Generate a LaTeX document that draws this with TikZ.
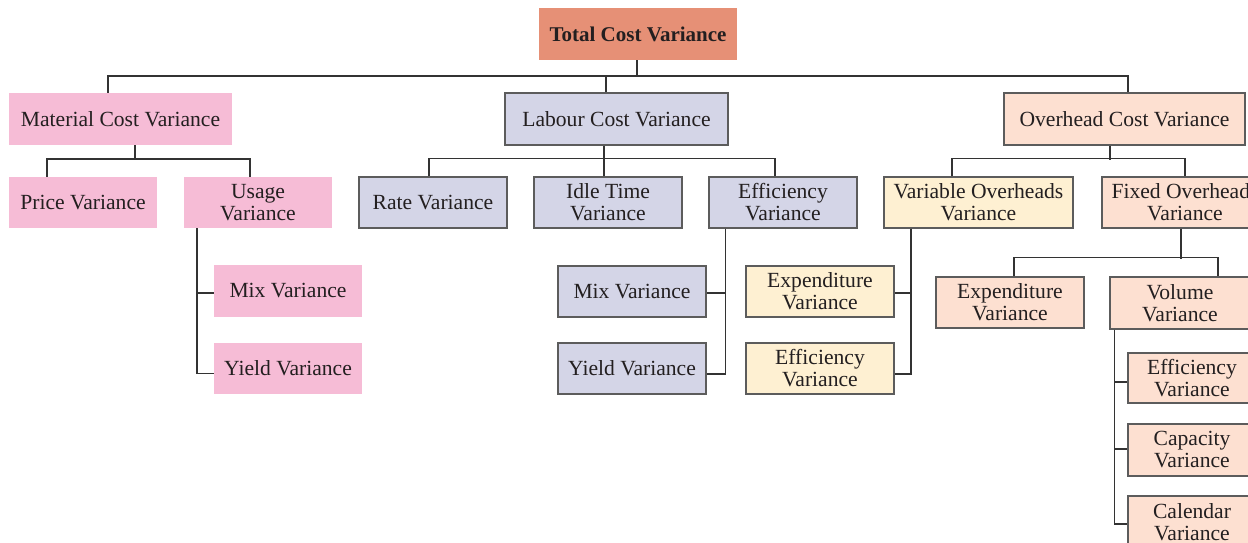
\documentclass[tikz,border=0pt]{standalone}
\usepackage{fontspec}
\setmainfont{Liberation Serif}
\definecolor{totc}{HTML}{E69076}
\definecolor{pinkc}{HTML}{F6BCD6}
\definecolor{lavc}{HTML}{D4D5E7}
\definecolor{peachc}{HTML}{FDE0D1}
\definecolor{yelc}{HTML}{FEF0D2}
\definecolor{bordc}{HTML}{5C5C5C}
\definecolor{linec}{HTML}{333333}
\definecolor{txtc}{HTML}{231F20}
\begin{document}
\begin{tikzpicture}[x=1pt,y=-1pt,
  box/.style={inner sep=0pt, align=center, text=txtc, font=\fontsize{21.6}{22}\selectfont},
  totbox/.style={box, fill=totc, font=\fontsize{21}{22}\selectfont\bfseries},
  pinkbox/.style={box, fill=pinkc},
  lavbox/.style={box, fill=lavc, draw=bordc, line width=1.2pt},
  peachbox/.style={box, fill=peachc, draw=bordc, line width=1.2pt},
  yelbox/.style={box, fill=yelc, draw=bordc, line width=1.2pt},
  conn/.style={draw=linec, line width=1.5pt}]
\useasboundingbox (0,0) rectangle (1248,543);
\clip (0,0) rectangle (1248,543);
% nodes
\node[totbox, minimum width=198pt, minimum height=52pt] (total) at (638,34) {Total Cost Variance};
\node[pinkbox, minimum width=223pt, minimum height=52pt] (mat) at (120.5,119) {Material Cost Variance};
\node[lavbox, minimum width=223pt, minimum height=52pt] (lab) at (616.5,119) {Labour Cost Variance};
\node[peachbox, minimum width=241pt, minimum height=52pt] (ovh) at (1124.5,119) {Overhead Cost Variance};
\node[pinkbox, minimum width=148pt, minimum height=51pt] (price) at (83,202.5) {Price Variance};
\node[pinkbox, minimum width=148pt, minimum height=51pt] (usage) at (258,202.5) {Usage\\Variance};
\node[pinkbox, minimum width=148pt, minimum height=52pt] (mixa) at (288,291) {Mix Variance};
\node[pinkbox, minimum width=148pt, minimum height=51pt] (yielda) at (288,368.5) {Yield Variance};
\node[lavbox, minimum width=148pt, minimum height=51pt] (rate) at (433,202.5) {Rate Variance};
\node[lavbox, minimum width=148pt, minimum height=51pt] (idle) at (608,202.5) {Idle Time\\Variance};
\node[lavbox, minimum width=148pt, minimum height=51pt] (effa) at (783,202.5) {Efficiency\\Variance};
\node[lavbox, minimum width=148pt, minimum height=51pt] (mixb) at (632,291.5) {Mix Variance};
\node[lavbox, minimum width=148pt, minimum height=51pt] (yieldb) at (632,368.5) {Yield Variance};
\node[yelbox, minimum width=189pt, minimum height=51pt] (var) at (978.5,202.5) {Variable Overheads\\Variance};
\node[peachbox, minimum width=166pt, minimum height=51pt] (fix) at (1185,202.5) {Fixed Overheads\\Variance};
\node[yelbox, minimum width=148pt, minimum height=51pt] (expa) at (820,291.5) {Expenditure\\Variance};
\node[yelbox, minimum width=148pt, minimum height=51pt] (effb) at (820,368.5) {Efficiency\\Variance};
\node[peachbox, minimum width=148pt, minimum height=51pt] (expb) at (1010,302.5) {Expenditure\\Variance};
\node[peachbox, minimum width=140pt, minimum height=52pt] (vol) at (1180,303) {Volume\\Variance};
\node[peachbox, minimum width=128pt, minimum height=50pt] (effc) at (1192,378) {Efficiency\\Variance};
\node[peachbox, minimum width=128pt, minimum height=52pt] (cap) at (1192,450) {Capacity\\Variance};
\node[peachbox, minimum width=128pt, minimum height=52pt] (cal) at (1192,522) {Calendar\\Variance};
% level 1
\draw[conn] ([xshift=-1pt]total.south) -- ++(0,16);
\draw[conn] ([xshift=-12.5pt]mat.north) -- ++(0,-17) -| ([xshift=3.5pt]ovh.north);
\draw[conn] ([xshift=-10.5pt]lab.north) -- ++(0,-17);
% material
\draw[conn] ([xshift=14.5pt]mat.south) -- ++(0,14);
\draw[conn] ([xshift=-36pt]price.north) -- ++(0,-18) -| ([xshift=-8pt]usage.north);
\draw[conn] ([xshift=13pt]usage.south west) |- ([yshift=-2pt]mixa.west);
\draw[conn] ([xshift=13pt]usage.south west) |- ([yshift=-5pt]yielda.west);
% labour
\draw[conn] ([xshift=-12.5pt]lab.south) -- ++(0,14);
\draw[conn] ([xshift=-4pt]rate.north) -- ++(0,-18) -| ([xshift=-8pt]effa.north);
\draw[conn] ([xshift=-4pt]idle.north) -- ++(0,-18);
\draw[conn] ([xshift=17pt]effa.south west) |- ([yshift=-1.5pt]mixb.east);
\draw[conn] ([xshift=17pt]effa.south west) |- ([yshift=-5.5pt]yieldb.east);
% overhead
\draw[conn] ([xshift=-14.5pt]ovh.south) -- ++(0,14);
\draw[conn] ([xshift=-26.5pt]var.north) -- ++(0,-18) -| ([xshift=0pt]fix.north);
\draw[conn] ([xshift=27.5pt]var.south west) |- ([yshift=-1.5pt]expa.east);
\draw[conn] ([xshift=27.5pt]var.south west) |- ([yshift=-5.5pt]effb.east);
\draw[conn] ([xshift=-4pt]fix.south) -- ++(0,30);
\draw[conn] ([xshift=4pt]expb.north) -- ++(0,-19) -| ([xshift=38pt]vol.north);
\draw[conn] ([xshift=5pt]vol.south west) |- ([yshift=-4pt]effc.west);
\draw[conn] ([xshift=5pt]vol.south west) |- ([yshift=1pt]cap.west);
\draw[conn] ([xshift=5pt]vol.south west) |- ([yshift=-2pt]cal.west);
\end{tikzpicture}
\end{document}
